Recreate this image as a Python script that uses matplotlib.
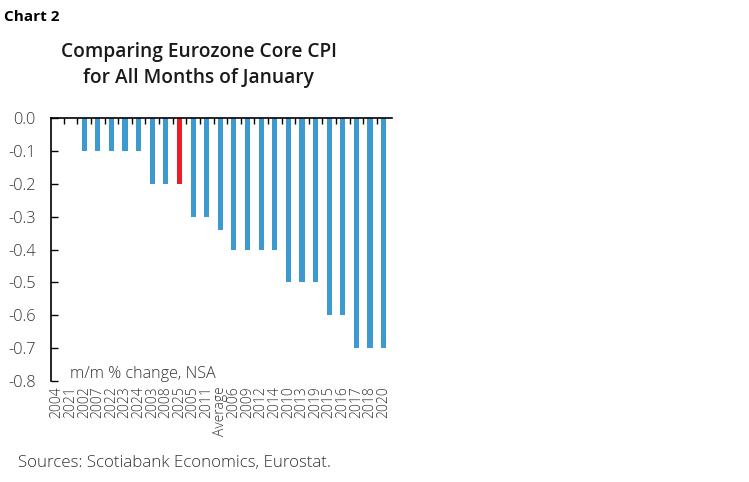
import matplotlib
matplotlib.use("Agg")
import matplotlib.pyplot as plt
import numpy as np

plt.rcParams['font.family'] = ['Open Sans', 'DejaVu Sans']

# January m/m % change in eurozone core CPI, sorted
years = ['2004', '2021', '2002', '2007', '2022', '2023', '2024', '2003', '2008', '2025',
         '2005', '2011', 'Average', '2006', '2009', '2012', '2014', '2010', '2013', '2019',
         '2015', '2016', '2017', '2018', '2020']
values = [0.0, 0.0, -0.1, -0.1, -0.1, -0.1, -0.1, -0.2, -0.2, -0.2,
          -0.3, -0.3, -0.34, -0.4, -0.4, -0.4, -0.4, -0.5, -0.5, -0.5,
          -0.6, -0.6, -0.7, -0.7, -0.7]
highlight = '2025'
yticks = [-0.8, -0.7, -0.6, -0.5, -0.4, -0.3, -0.2, -0.1, 0.0]

blue = '#3D9AD1'
red = '#EE1C25'
txt = '#333333'

fig = plt.figure(figsize=(7.49, 4.82), dpi=100)
ax = fig.add_axes([0.068, 0.2095, 0.455, 0.5456])

x = np.arange(len(years))
colors = [red if y == highlight else blue for y in years]
ax.bar(x, values, width=0.38, color=colors)

ax.set_ylim(-0.8, 0)
ax.set_xlim(-0.45, len(years) - 0.4)
ax.set_yticks(yticks)
ax.set_yticklabels([f'{v:.1f}' for v in yticks], fontweight='light')

ax.set_xticks(x)
ax.set_xticklabels(years, rotation=90, fontsize=10, color=txt, fontweight='light')
ax.set_xticks(x[:-1] + 0.5, minor=True)
ax.tick_params(axis='x', which='major', length=0, pad=4)
ax.tick_params(axis='x', which='minor', top=True, bottom=False, direction='in', length=4, width=1)
ax.tick_params(axis='y', direction='in', length=5, width=1, labelsize=11.8, labelcolor=txt, pad=11)

for s in ['right', 'bottom']:
    ax.spines[s].set_visible(False)
ax.spines['top'].set_linewidth(1.2)
ax.spines['left'].set_linewidth(1.2)

ax.text(0.055, -0.005, 'm/m % change, NSA', transform=ax.transAxes, fontsize=11.6,
        color=txt, ha='left', va='bottom', fontweight='light')

fig.text(0.006, 0.965, 'Chart 2', fontsize=11, fontweight='bold', color='black',
         ha='left', va='center')
fig.text(0.265, 0.865, 'Comparing Eurozone Core CPI\nfor All Months of January',
         fontsize=13.8, fontweight='semibold', color='#1a1a1a', ha='center', va='center',
         linespacing=1.45)
fig.text(0.024, 0.04, 'Sources: Scotiabank Economics, Eurostat.', fontsize=12.2,
         color=txt, ha='left', va='center', fontweight='light')

fig.savefig('out.png', dpi=100)
